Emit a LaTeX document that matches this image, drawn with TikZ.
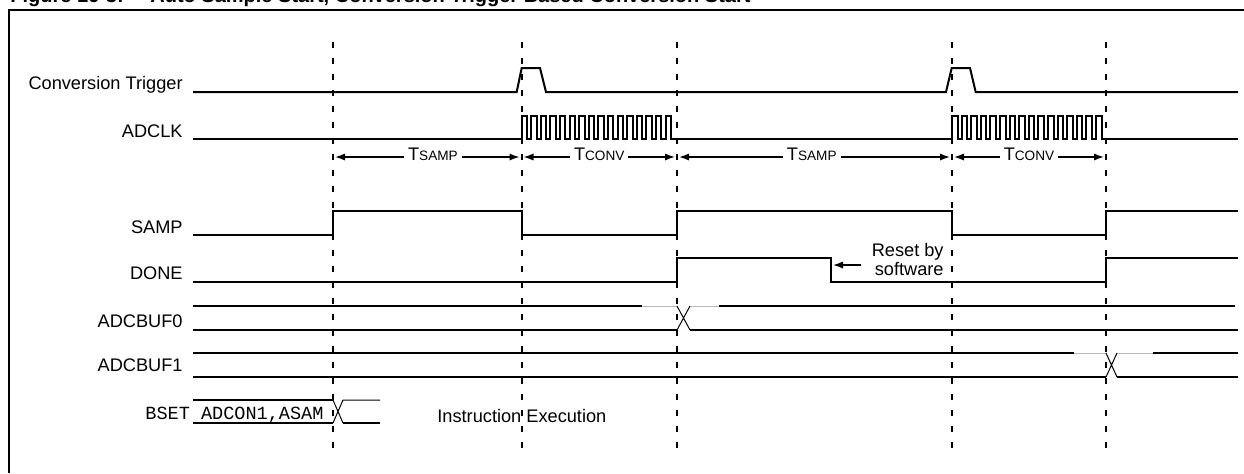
\documentclass[tikz,border=0pt]{standalone}
\usepackage{fontspec}
\setmainfont{Liberation Sans}
\setmonofont{Liberation Mono}
\usetikzlibrary{arrows.meta,positioning}

\begin{document}
\begin{tikzpicture}[x=0.5pt, y=-0.5pt,
    sig/.style={line width=1pt},
    thinsig/.style={line width=0.5pt},
    ghost/.style={line width=0.5pt, gray!55},
    guide/.style={line width=1pt, dash pattern=on 3pt off 5pt},
    lbl/.style={anchor=base east, inner sep=0pt, font=\fontsize{9.1}{11}\selectfont},
    span/.style={{Latex[length=5pt,width=3.6pt]}-{Latex[length=5pt,width=3.6pt]}, line width=0.7pt, shorten <=1pt, shorten >=1pt},
    tlbl/.style={fill=white, inner xsep=2pt, inner ysep=0pt, anchor=base, yshift=-1.5pt, font=\fontsize{9.1}{11}\selectfont}]
    \useasboundingbox (0,0) rectangle (1244,473);

    % title and frame
    \node[anchor=base west, inner sep=0pt, font=\bfseries\fontsize{10}{12}\selectfont] (fig) at (10,2) {Figure 16-3:};
    \node[anchor=base west, inner sep=0pt, font=\bfseries\fontsize{10}{12}\selectfont] (title) at (150,2) {Auto Sample Start, Conversion Trigger Based Conversion Start};
    \draw[sig] (8.5,473) -- (8.5,9.5) -- (1244,9.5);

    % signal names
    \node[lbl] (ct) at (183,89.5) {Conversion Trigger};
    \node[lbl] (clk) at (183,137) {ADCLK};
    \node[lbl] (samp) at (183,233) {SAMP};
    \node[lbl] (done) at (183,279.5) {DONE};
    \node[lbl] (buf0) at (183,327) {ADCBUF0};
    \node[lbl] (buf1) at (183,371) {ADCBUF1};
    \node[anchor=base west, inner sep=0pt, font=\ttfamily\fontsize{9.27}{11}\selectfont] (bset) at (145,419) {BSET ADCON1,ASAM};
    \node[anchor=base west, inner sep=0pt, font=\fontsize{9.1}{11}\selectfont] (exec) at (437,422.5) {Instruction Execution};

    % time marks
    \foreach \x in {333,521.5,677,952,1106}
        \draw[guide] (\x,42) -- (\x,448);

    % conversion trigger
    \draw[sig] (193,92) -- (516.7,92) -- (521.7,68) -- (540,68) -- (546,92)
        -- (946,92) -- (951.7,68) -- (970,68) -- (975.7,92) -- (1238,92);

    % ADCLK
    \draw[sig] (193,139) -- (521.5,139)
        \foreach \k in {1,...,16} { -- ++(0,-23) -- ++(5.5,0) -- ++(0,23) -- ++(4.1,0) }
        -- (952,139)
        \foreach \k in {1,...,16} { -- ++(0,-23) -- ++(5.5,0) -- ++(0,23) -- ++(4.1,0) }
        -- (1238,139);

    % sample / convert times
    \coordinate (m1) at (333,157);
    \coordinate (m2) at (521.5,157);
    \coordinate (m3) at (677,157);
    \coordinate (m4) at (952,157);
    \coordinate (m5) at (1106,157);
    \draw[span] (m1) -- node[tlbl, pos=.53] {T{\fontsize{6.8}{8}\selectfont SAMP}} (m2);
    \draw[span] (m2) -- node[tlbl] {T{\fontsize{6.8}{8}\selectfont CONV}} (m3);
    \draw[span] (m3) -- node[tlbl, pos=.49] {T{\fontsize{6.8}{8}\selectfont SAMP}} (m4);
    \draw[span] (m4) -- node[tlbl] {T{\fontsize{6.8}{8}\selectfont CONV}} (m5);

    % SAMP
    \draw[sig] (193,235) -- (333,235) -- (333,211) -- (521.5,211) -- (521.5,235)
        -- (677,235) -- (677,211) -- (952,211) -- (952,235) -- (1106,235)
        -- (1106,211) -- (1238,211);

    % DONE
    \draw[sig] (193,282) -- (677,282) -- (677,258) -- (831,258) -- (831,282)
        -- (1106,282) -- (1106,258) -- (1238,258);
    \node[align=right, anchor=east, inner xsep=5pt, inner ysep=0pt, font=\fontsize{9.1}{9.5}\selectfont] (rst) at (954,259) {Reset by\\software};
    \coordinate (fall) at (833,265);
    \draw[-{Latex[length=5pt,width=3.6pt]}, line width=0.7pt] (rst.west |- fall) -- (fall);

    % ADCBUF0
    \draw[sig] (193,306) -- (642,306);
    \draw[ghost] (642,306) -- (677,306) (690,306) -- (719,306);
    \draw[thinsig] (677,306) -- (690,330) (677,330) -- (690,306);
    \draw[sig] (719,306) -- (1235,306);
    \draw[sig] (193,330) -- (677,330) (690,330) -- (1238,330);

    % ADCBUF1
    \draw[sig] (193,353) -- (1074,353);
    \draw[ghost] (1074,353) -- (1106,353) (1117,353) -- (1153,353);
    \draw[thinsig] (1106,353) -- (1117,377) (1106,377) -- (1117,353);
    \draw[sig] (1153,353) -- (1238,353);
    \draw[sig] (193,377) -- (1106,377) (1117,377) -- (1238,377);

    % instruction bus
    \draw[sig] (193,400) -- (333,400) (193,423) -- (333,423);
    \draw[thinsig] (333,400) -- (343,423) (333,423) -- (343,400) (343,400) -- (380,400);
    \draw[sig] (343,423) -- (380,423);
\end{tikzpicture}
\end{document}
